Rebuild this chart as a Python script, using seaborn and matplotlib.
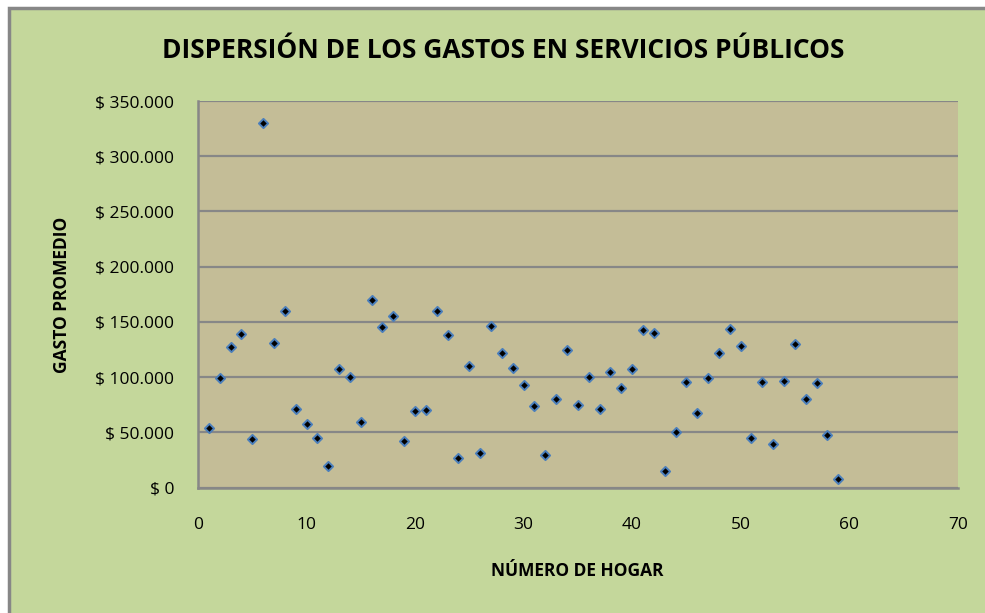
import pandas as pd
import matplotlib.pyplot as plt
import matplotlib.ticker as mticker
from matplotlib.patches import Rectangle
import seaborn as sns

# Datos (hogar 1..59)
hogares = list(range(1, 60))
gastos = [
    54000, 99000, 127500, 139000, 44000, 330000, 131000, 160000, 71500, 57500,
    45000, 20000, 107000, 100000, 59500, 170000, 145000, 155000, 42000, 69000,
    70000, 160000, 138000, 27000, 110000, 31000, 146000, 121500, 108500, 93000,
    73500, 30000, 80000, 125000, 75000, 100000, 71000, 105000, 90000, 107500,
    143000, 140000, 15000, 50000, 96000, 68000, 99000, 121500, 144000, 128000,
    45000, 96000, 40000, 97000, 130000, 80000, 95000, 48000, 8000,
]
y_ticks = [0, 50000, 100000, 150000, 200000, 250000, 300000, 350000]
x_ticks = [0, 10, 20, 30, 40, 50, 60, 70]

df = pd.DataFrame({'hogar': hogares, 'gasto': gastos})

sns.set_theme(style="white")
plt.rcParams['font.family'] = ['Open Sans', 'DejaVu Sans']
plt.rcParams['text.color'] = 'black'

fondo = '#C4D79B'
area = '#C4BD97'
gris = '#878787'

fig = plt.figure(figsize=(9.85, 6.13), dpi=100, facecolor='white')
# marco exterior del grafico
fig.patches.append(Rectangle((9 / 985, -0.05), 1.1, 1 - 8 / 613 + 0.05,
                             transform=fig.transFigure, facecolor=fondo,
                             edgecolor=gris, linewidth=2.5, zorder=-5))

ax = fig.add_axes([198 / 985, 1 - 487.7 / 613, 759.7 / 985, 386.7 / 613])
ax.set_facecolor(area)

sns.scatterplot(data=df, x='hogar', y='gasto', ax=ax, marker='D', s=22,
                color='black', edgecolor='#4A7EBB', linewidth=1.4, zorder=3)

ax.set_xlim(0, 70)
ax.set_ylim(0, 350000)
ax.set_xticks(x_ticks)
ax.set_yticks(y_ticks)
ax.yaxis.set_major_formatter(mticker.FuncFormatter(
    lambda v, p: '$ ' + f'{int(v):,}'.replace(',', '.')))
ax.grid(axis='y', color=gris, linewidth=1.6)
ax.set_axisbelow(True)
for side in ['top', 'right']:
    ax.spines[side].set_visible(False)
for side in ['left', 'bottom']:
    ax.spines[side].set_color(gris)
    ax.spines[side].set_linewidth(1.8)
ax.tick_params(axis='both', length=0, labelsize=12.5, colors='black')
ax.tick_params(axis='x', pad=21)
ax.tick_params(axis='y', pad=17)
ax.set_xlabel('')
ax.set_ylabel('')

fig.text(0.511, 0.918, 'DISPERSIÓN DE LOS GASTOS EN SERVICIOS PÚBLICOS',
         ha='center', va='center', fontsize=19, fontweight='bold', color='black')
fig.text(0.063, 0.519, 'GASTO PROMEDIO', rotation=90, ha='center', va='center',
         fontsize=12.5, fontweight='bold', color='black')
fig.text(0.586, 0.068, 'NÚMERO DE HOGAR', ha='center', va='center',
         fontsize=12.5, fontweight='bold', color='black')

fig.savefig('out.png', dpi=100, facecolor='white')
